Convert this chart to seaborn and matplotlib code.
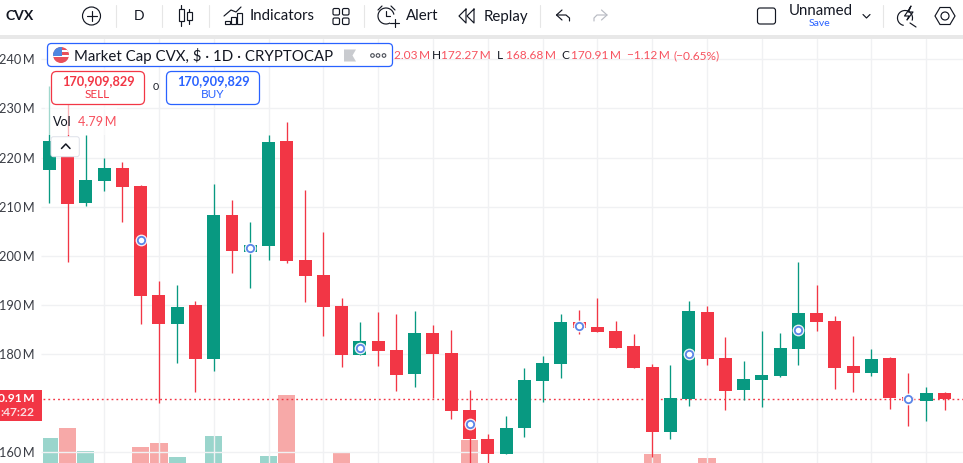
import numpy as np
import pandas as pd
import seaborn as sns
import matplotlib
matplotlib.use("Agg")
import matplotlib.pyplot as plt
from matplotlib.patches import Rectangle, FancyBboxPatch, Circle, Polygon, Arc

# ---------- data (millions) ----------
direction = ["G","R","G","G","R","R","R","G","R","G","R","G","G","R","R","R","R","G","R","R",
             "G","R","R","R","R","G","G","G","G","R","R","R","R","R","G","G","R","R","G","G",
             "G","G","R","R","R","G","R","R","G","R"]
body_top = [223.4,223.4,215.4,217.9,217.9,214.2,192.0,189.6,190.0,208.3,
            208.3,202.1,223.2,223.4,199.1,196.1,189.8,182.7,182.7,180.8,
            184.3,184.3,180.2,168.6,162.7,164.9,174.7,178.2,186.5,186.5,
            185.5,184.7,181.6,177.4,171.1,188.8,188.6,179.2,174.9,175.7,
            181.2,188.4,188.4,186.7,177.6,179.0,179.2,171.3,172.1,172.1]
body_bot = [217.5,210.6,210.8,215.2,214.0,191.9,186.1,186.1,179.0,179.0,
            201.0,200.8,201.9,198.9,195.9,189.6,179.8,179.8,180.6,175.7,
            175.9,180.0,168.4,162.7,159.7,159.7,164.9,174.5,178.0,185.3,
            184.5,181.2,177.2,164.1,164.1,170.9,179.0,172.5,172.7,174.7,
            175.5,181.0,186.5,177.2,176.1,176.1,171.1,170.4,170.4,170.91]
high = [234.6,233.7,224.6,219.9,219.1,214.4,194.9,194.1,190.8,214.6,
        211.4,206.9,224.6,227.2,213.4,204.8,191.4,186.5,188.6,188.2,
        188.8,185.9,184.9,172.7,163.7,167.4,177.2,179.6,188.2,189.0,
        191.4,186.7,184.1,178.0,177.8,190.8,189.8,183.5,178.6,184.7,
        184.3,198.7,194.1,187.7,183.7,181.0,179.4,176.1,173.3,172.27]
low = [210.8,198.7,210.2,213.2,206.9,186.1,170.0,178.2,172.3,176.5,
       196.5,193.4,199.1,198.5,190.6,183.7,177.4,179.8,177.6,172.5,
       173.3,171.1,166.8,157.0,157.0,159.7,163.1,170.2,175.1,184.1,
       184.5,181.2,177.2,159.0,162.7,169.4,177.8,168.6,170.6,169.2,
       175.3,177.8,184.7,172.9,172.3,175.5,168.8,165.4,166.4,168.68]
volume = [10.4,12.4,7.8,3.2,3.6,8.6,9.4,6.6,4.2,10.8,
          4.4,3.4,6.8,19.0,4.6,3.8,7.4,2.8,3.0,3.6,
          3.9,3.2,4.4,10.0,4.8,3.4,4.2,3.0,3.8,2.6,
          2.4,2.8,3.0,7.2,4.5,4.9,6.4,3.6,2.8,3.4,
          3.0,4.6,3.2,4.1,2.7,2.9,4.4,3.6,2.5,4.79]
marker_idx = [5,11,17,23,29,35,41,47]
marker_val = [203.2,201.5,181.2,165.8,185.8,180.0,184.9,170.9]
last_close = 170.91
ytick_vals = [240,230,220,210,200,190,180,160]
ytick_labels = ["240\u2009M","230\u2009M","220\u2009M","210\u2009M","200\u2009M","190\u2009M","180\u2009M","160\u2009M"]
xgrid_idx = list(range(3,50,3))

GREEN, RED = "#089981", "#F23645"
TXTRED = "#F7525F"
BLUE = "#2962FF"
GRID = "#F0F1F3"
INK = "#131722"

sns.set_theme(style="white")
plt.rcParams["font.family"] = ["Lato", "DejaVu Sans"]
W, H = 963, 463
fig = plt.figure(figsize=(W/100, H/100), dpi=100, facecolor="white")

PANE = [43/W, 0, (W-43)/W, (H-39)/H]
XLIM = (-0.345, 50.01)
YLIM = (157.82, 244.13)

# ---------- volume (bottom layer) ----------
df = pd.DataFrame({"i": np.arange(50), "vol": volume, "dir": direction})
ax_v = fig.add_axes(PANE, zorder=1)
sns.barplot(data=df, x="i", y="vol", hue="dir", palette={"G": "#9AD5CC", "R": "#F7A9A8"},
            native_scale=True, dodge=False, width=0.94, saturation=1, legend=False,
            linewidth=0, ax=ax_v)
ax_v.set_xlim(*XLIM)
ax_v.set_ylim(5.4, 90.2)
ax_v.axis("off")

# ---------- price ----------
ax = fig.add_axes(PANE, zorder=2)
ax.patch.set_visible(False)
ax.set_xlim(*XLIM)
ax.set_ylim(*YLIM)
for s in ax.spines.values():
    s.set_visible(False)
ax.set_yticks(ytick_vals)
ax.set_yticklabels(ytick_labels, fontsize=9.2, color="#3a3d45")
ax.tick_params(axis="y", length=0, pad=6.2)
ax.set_xticks(xgrid_idx)
ax.tick_params(axis="x", length=0, labelbottom=False)
ax.grid(True, color=GRID, linewidth=1)
ax.set_axisbelow(True)
ax.hlines(ytick_vals, -0.44, XLIM[0], color=GRID, lw=1, clip_on=False)
ax.axhline(last_close, color=RED, lw=1, ls=(0, (1.3, 2.2)), zorder=1.5)

colors = [GREEN if d == "G" else RED for d in direction]
idx = np.arange(50)
ax.vlines(idx, low, high, colors=colors, lw=0.95, zorder=2)
ax.bar(idx, np.array(body_top)-np.array(body_bot), bottom=body_bot, width=0.71,
       color=colors, linewidth=0, zorder=3)

mk = pd.DataFrame({"i": marker_idx, "v": marker_val})
sns.scatterplot(data=mk, x="i", y="v", s=72, color="white", linewidth=0, alpha=0.92, ax=ax, zorder=4, legend=False)
sns.scatterplot(data=mk, x="i", y="v", s=28, color="white", edgecolor="#5A85E8", linewidth=1.3,
                ax=ax, zorder=5, legend=False)
ax.set_xlabel("")
ax.set_ylabel("")

# ---------- overlay in pixel coordinates ----------
ui = fig.add_axes([0, 0, 1, 1], zorder=5)
ui.set_xlim(0, W)
ui.set_ylim(H, 0)
ui.axis("off")

def T(x, y, s, px, color=INK, ha="left", weight="normal", z=10):
    ui.text(x, y, s, fontsize=px*0.72, color=color, ha=ha, va="center", fontweight=weight, zorder=z)

def L(xs, ys, color=INK, lw=0.85, z=10):
    ui.plot(xs, ys, color=color, lw=lw, zorder=z, solid_capstyle="round", solid_joinstyle="round")

def box(x0, y0, x1, y1, ec, fc="white", r=4, lw=0.9, alpha=1, z=8):
    ui.add_patch(FancyBboxPatch((x0+r, y0+r), x1-x0-2*r, y1-y0-2*r,
                                boxstyle=f"round,pad={r},rounding_size={r}",
                                ec=ec, fc=fc, lw=lw, alpha=alpha, zorder=z))

# toolbar
ui.add_patch(Rectangle((0, 0), W, 35, fc="white", ec="none", zorder=6))
ui.add_patch(Rectangle((0, 35), W, 4, fc="#E8E8E8", ec="none", zorder=6))
for x in [115.7, 161.7, 208.5, 364, 539.5, 883]:
    L([x, x], [5, 27], "#E6E6E6", 0.8)

T(5, 16.5, "CVX", 14, weight="bold")
ui.add_patch(Circle((91.5, 16), 9, fc="none", ec=INK, lw=0.85, zorder=10))
L([86.5, 96.5], [16, 16]); L([91.5, 91.5], [11, 21])
T(138.7, 16.5, "D", 14, ha="center")
# candle icon
for x, top, b0, b1, bot in [(181, 5, 9, 21, 26), (189, 9, 12, 20, 24)]:
    L([x, x], [top, bot]); ui.add_patch(Rectangle((x-2.5, b0), 5, b1-b0, fc="white", ec=INK, lw=0.85, zorder=10))
# indicators icon
for x, t in [(225, 21), (231, 17), (237, 13)]:
    ui.add_patch(Rectangle((x, t), 5, 24-t, fc="white", ec=INK, lw=0.85, zorder=10))
L([224, 231, 236, 241], [16, 10, 12, 7])
T(250, 16.5, "Indicators", 15)
for x in [333, 342.5]:
    for y in [8.5, 18]:
        ui.add_patch(FancyBboxPatch((x+1.5, y+1.5), 3.5, 3.5, boxstyle="round,pad=1.5,rounding_size=1.5",
                                    fc="none", ec=INK, lw=0.85, zorder=10))
# alert icon
ui.add_patch(Arc((386, 16), 16, 16, theta1=60, theta2=350, ec=INK, lw=0.85, zorder=10))
L([386, 386, 390], [11, 16, 16]); L([390, 399], [23, 23]); L([394.5, 394.5], [19, 27])
L([378, 382], [10, 6]); L([391, 395], [6, 10])
T(406, 16.5, "Alert", 15)
# replay
for x in [459, 467]:
    L([x+7, x, x+7, x+7], [9, 16, 23, 9])
T(484, 16.5, "Replay", 15)
# undo / redo
L([562, 556.5, 562], [10, 15, 20]); L([556.5, 566, 569.5, 569.5], [15, 15, 18, 21])
L([601.5, 607, 601.5], [10, 15, 20], "#B8BBC3"); L([607, 597, 594, 594], [15, 15, 18, 21], "#B8BBC3")
box(757.5, 8, 775.5, 24, INK, r=2.5, lw=0.85, z=10)
T(820.5, 11, "Unnamed", 15, ha="center")
T(820, 24, "Save", 10.5, BLUE, ha="center")
L([863, 866.5, 870], [14.5, 18, 14.5])
# lightning search
ui.add_patch(Arc((905, 18), 15, 15, theta1=100, theta2=20, ec=INK, lw=0.85, zorder=10))
L([910, 916], [23, 27]); L([908, 904.5, 909, 907, 913, 908.5, 911, 908], [11, 16, 16, 20, 12, 12, 6, 11])
# settings hexagon
ui.add_patch(Polygon([(935, 16), (940, 7.5), (950, 7.5), (955, 16), (950, 24.5), (940, 24.5)],
                     fc="none", ec=INK, lw=0.85, zorder=10))
ui.add_patch(Circle((945, 16), 4, fc="none", ec=INK, lw=0.85, zorder=10))

# translucent legend backdrop and collapse button
ui.add_patch(Rectangle((45, 68), 72, 67, fc="white", ec="none", alpha=0.62, zorder=6))
box(51, 136.7, 79.3, 156.7, "#E0E3EB", fc=(1, 1, 1, 0.75), r=2.5, lw=0.75, z=7)
L([61.5, 65.8, 70], [148.5, 144, 148.5], INK, 1.1)
T(52.5, 121.5, "Vol", 12.6)
T(78, 121.5, "4.79\u2009M", 12.6, TXTRED)

# title pill
box(47.5, 43.5, 392.5, 66.5, BLUE, r=4, lw=0.9)
flag = Circle((61, 55), 8, fc="#E8505B", ec="none", zorder=9)
ui.add_patch(flag)
for y0, h, col in [(50, 2, "white"), (54.5, 2.5, "white"), (47, 8.5, None)]:
    if col:
        r_ = Rectangle((52, y0), 18, h, fc=col, ec="none", zorder=9.2)
    else:
        r_ = Rectangle((52, y0), 9.5, h, fc="#4F86E0", ec="none", zorder=9.3)
    ui.add_patch(r_)
    r_.set_clip_path(flag)
T(74, 55.5, "Market Cap CVX, $ · 1D · CRYPTOCAP", 15)
ui.add_patch(Polygon([(344, 49.5), (356, 49.5), (352.5, 55.5), (356, 61.5), (344, 61.5)],
                     fc="#C9CBCF", ec="none", zorder=10))
for x in [372.5, 378, 384]:
    ui.add_patch(Circle((x, 55.5), 1.8, fc="none", ec="#4A4E57", lw=0.8, zorder=10))

# OHLC line
OH = 11.9
T(393.5, 55.5, "2.03\u2009M", OH, TXTRED, z=5)
T(432, 55.5, "H", OH)
T(440.7, 55.5, "172.27\u2009M", OH, TXTRED)
T(497, 55.5, "L", OH)
T(505.7, 55.5, "168.68\u2009M", OH, TXTRED)
T(561, 55.5, "C", OH)
T(570.7, 55.5, "170.91\u2009M", OH, TXTRED)
T(626.7, 55.5, "−1.12\u2009M", OH, TXTRED)
T(673, 55.5, "(−0.65%)", OH, TXTRED)

# order buttons
box(51.5, 71.5, 144.5, 104.5, RED, r=5, lw=0.9)
T(98, 81, "170,909,829", 12.8, RED, ha="center", weight="bold")
T(97.5, 95, "SELL", 11.8, RED, ha="center")
box(166.5, 71.5, 259.5, 104.5, BLUE, r=5, lw=0.9)
T(213, 81, "170,909,829", 12.8, BLUE, ha="center", weight="bold")
T(213, 95, "BUY", 11.8, BLUE, ha="center")
T(155.5, 87.5, "0", 10.5, ha="center")

# last price tag
ui.add_patch(Rectangle((0, 390), 42, 31, fc=RED, ec="none", zorder=8))
T(34, 399, "0.91\u2009M", 12, "white", ha="right", weight="bold")
T(34, 412.5, ":47:22", 12, "#FBDDE0", ha="right", weight="bold")

fig.savefig("out.png", dpi=100)
